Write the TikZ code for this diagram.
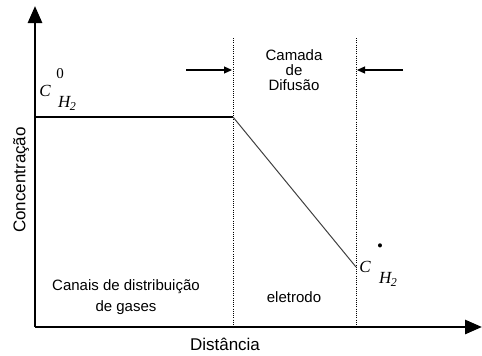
\documentclass[tikz,border=0pt]{standalone}
\usepackage{fontspec}
\setmainfont{Liberation Sans}
\newfontfamily\serifC{Liberation Serif}
\usetikzlibrary{arrows.meta}
\tikzset{
  axis/.style={line width=2.8pt,-{Triangle[length=17pt,width=14pt]}},
  divider/.style={line width=1pt,dash pattern=on 1pt off 1.2pt},
  pointer/.style={line width=1.2pt,-{Triangle[length=8pt,width=7pt]}},
  lbl/.style={font=\fontsize{15}{17}\selectfont,align=center,inner sep=0pt},
  axlbl/.style={font=\fontsize{17}{20}\selectfont,inner sep=0pt},
  sym/.style={font=\serifC\fontsize{17}{19}\selectfont,inner sep=0pt}
}
\begin{document}
\begin{tikzpicture}[x=1pt,y=-1pt]
\useasboundingbox (0,0) rectangle (482,356);
% axes
\coordinate (O) at (35,327);
\coordinate (ytop) at (35,6);
\coordinate (xend) at (482,327);
\draw[axis] (O) -- (ytop);
\draw[axis] (O) -- (xend);
% dividers
\coordinate (d1t) at (233,38);
\coordinate (d1b) at (233,327);
\coordinate (d2t) at (356,38);
\coordinate (d2b) at (356,327);
\draw[divider] (d1t) -- (d1b);
\draw[divider] (d2t) -- (d2b);
% concentration profile
\coordinate (p0) at (35,117);
\coordinate (p1) at (233,117);
\coordinate (p2) at (356,267);
\draw[line width=1.6pt] (p0) -- (p1);
\draw[line width=1pt,black!75] (p1) -- (p2);
% pointers
\coordinate (la) at (186,70);
\coordinate (lb) at (232,70);
\coordinate (ra) at (403,70);
\coordinate (rb) at (357,70);
\draw[pointer] (la) -- (lb);
\draw[pointer] (ra) -- (rb);
% texts
\node[lbl] (camada) at (294,70) {Camada\\[-2pt]de\\[-2pt]Difusão};
\node[lbl] (canais) at (126,297) {Canais de distribuição\\[4pt]de gases};
\node[lbl] (eletrodo) at (294,297) {eletrodo};
\node[axlbl] (dist) at (225,344) {Distância};
\node[axlbl,rotate=90] (conc) at (21,180) {Concentração};
% C^0_H2
\node[sym] (c0) at (45,91) {\itshape C};
\node[sym,font=\serifC\fontsize{15}{17}\selectfont] (z0) at (60,74) {0};
\node[sym] (h0) at (67,103) {\itshape H\kern-0.5pt\raisebox{-3pt}{\fontsize{12}{13}\selectfont 2}};
% C*_H2
\node[sym] (cs) at (365,267) {\itshape C};
\node[sym] (st) at (380,248) {\textbullet};
\node[sym] (hs) at (388,279) {\itshape H\kern-0.5pt\raisebox{-3pt}{\fontsize{12}{13}\selectfont 2}};
\end{tikzpicture}
\end{document}
